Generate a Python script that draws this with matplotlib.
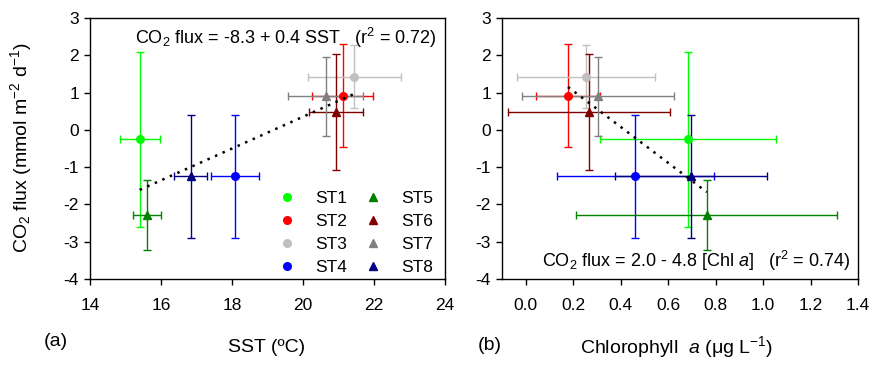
import matplotlib
matplotlib.use("Agg")
import matplotlib.pyplot as plt
import numpy as np

plt.rcParams['font.family'] = ['Liberation Sans', 'DejaVu Sans']
plt.rcParams['axes.unicode_minus'] = False
plt.rcParams['mathtext.fontset'] = 'custom'
plt.rcParams['mathtext.rm'] = 'Liberation Sans'
plt.rcParams['mathtext.it'] = 'Liberation Sans:italic'

stations = ["ST1", "ST2", "ST3", "ST4", "ST5", "ST6", "ST7", "ST8"]
colors = ["#00FF00", "#FF0000", "#C0C0C0", "#0000FF", "#008000", "#800000", "#808080", "#000080"]
markers = ["o", "o", "o", "o", "^", "^", "^", "^"]

co2_flux = [-0.25, 0.92, 1.43, -1.25, -2.28, 0.48, 0.90, -1.25]
co2_err = [2.35, 1.37, 0.85, 1.66, 0.93, 1.56, 1.06, 1.65]

sst = [15.41, 21.12, 21.45, 18.09, 15.60, 20.94, 20.64, 16.84]
sst_err = [0.56, 0.86, 1.31, 0.67, 0.39, 0.76, 1.06, 0.46]

chl = [0.683, 0.178, 0.255, 0.462, 0.763, 0.267, 0.303, 0.696]
chl_err = [0.37, 0.136, 0.29, 0.33, 0.55, 0.34, 0.32, 0.32]

fit_a_x = [15.4, 21.45]
fit_a_y = [-1.61, 0.97]
fit_b_x = [0.178, 0.763]
fit_b_y = [1.15, -1.67]

fig = plt.figure(figsize=(8.8, 3.69), dpi=100)
ax1 = fig.add_axes([90/880, 1-279/369, 355/880, 261/369])
ax2 = fig.add_axes([502/880, 1-279/369, 356/880, 261/369])

def draw(ax, xs, xerrs):
    for i in range(len(stations)):
        ax.errorbar(xs[i], co2_flux[i], xerr=xerrs[i], yerr=co2_err[i],
                    fmt=markers[i], color=colors[i], ecolor=colors[i],
                    markersize=5.5, elinewidth=1.0, capsize=3, capthick=1.0,
                    label=stations[i], zorder=3)
    ax.set_ylim(-4, 3)
    ax.set_yticks(range(-4, 4))
    for s in ax.spines.values():
        s.set_linewidth(1.0)
    ax.tick_params(direction='out', length=4, width=1, labelsize=12.5)
    ax.tick_params(axis='x', pad=10)
    ax.tick_params(axis='y', pad=4)

draw(ax1, sst, sst_err)
ax1.plot(fit_a_x, fit_a_y, color='black', lw=1.8, dashes=(1, 2.3), zorder=5)
ax1.set_xlim(14, 24)
ax1.set_xticks([14, 16, 18, 20, 22, 24])
ax1.text(0.975, 0.925, r"CO$_2$ flux = -8.3 + 0.4 SST   (r$^2$ = 0.72)",
         transform=ax1.transAxes, ha='right', va='center', fontsize=13)
leg_handles = []
for i in range(len(stations)):
    h, = ax1.plot([], [], linestyle='none', marker=markers[i], color=colors[i],
                  markersize=5.5, label=stations[i])
    leg_handles.append(h)
ax1.legend(handles=leg_handles, loc='lower right', bbox_to_anchor=(0.986, -0.01),
           ncol=2, frameon=False,
           fontsize=12.5, handletextpad=1.1, columnspacing=1.0,
           labelspacing=0.45, borderaxespad=0.0, handlelength=1.0)

draw(ax2, chl, chl_err)
ax2.plot(fit_b_x, fit_b_y, color='black', lw=1.8, dashes=(1, 2.3), zorder=5)
ax2.set_xlim(-0.1, 1.4)
ax2.set_xticks([0.0, 0.2, 0.4, 0.6, 0.8, 1.0, 1.2, 1.4])
ax2.set_xticklabels(["0.0", "0.2", "0.4", "0.6", "0.8", "1.0", "1.2", "1.4"])
ax2.text(0.98, 0.07, r"CO$_2$ flux = 2.0 - 4.8 [Chl $a$]   (r$^2$ = 0.74)",
         transform=ax2.transAxes, ha='right', va='center', fontsize=13)

fig.text(21/880, 1-148/369, r"CO$_2$ flux (mmol m$^{-2}$ d$^{-1}$)", rotation=90,
         ha='center', va='center', fontsize=14)
fig.text(267/880, 1-348/369, "SST (ºC)", ha='center', va='center', fontsize=14)
fig.text(56/880, 1-342/369, "(a)", ha='center', va='center', fontsize=14)
fig.text(677/880, 1-347/369, r"Chlorophyll  $a$ (μg L$^{-1}$)", ha='center', va='center', fontsize=14)
fig.text(490/880, 1-345/369, "(b)", ha='center', va='center', fontsize=14)

fig.savefig("out.png", dpi=100)
